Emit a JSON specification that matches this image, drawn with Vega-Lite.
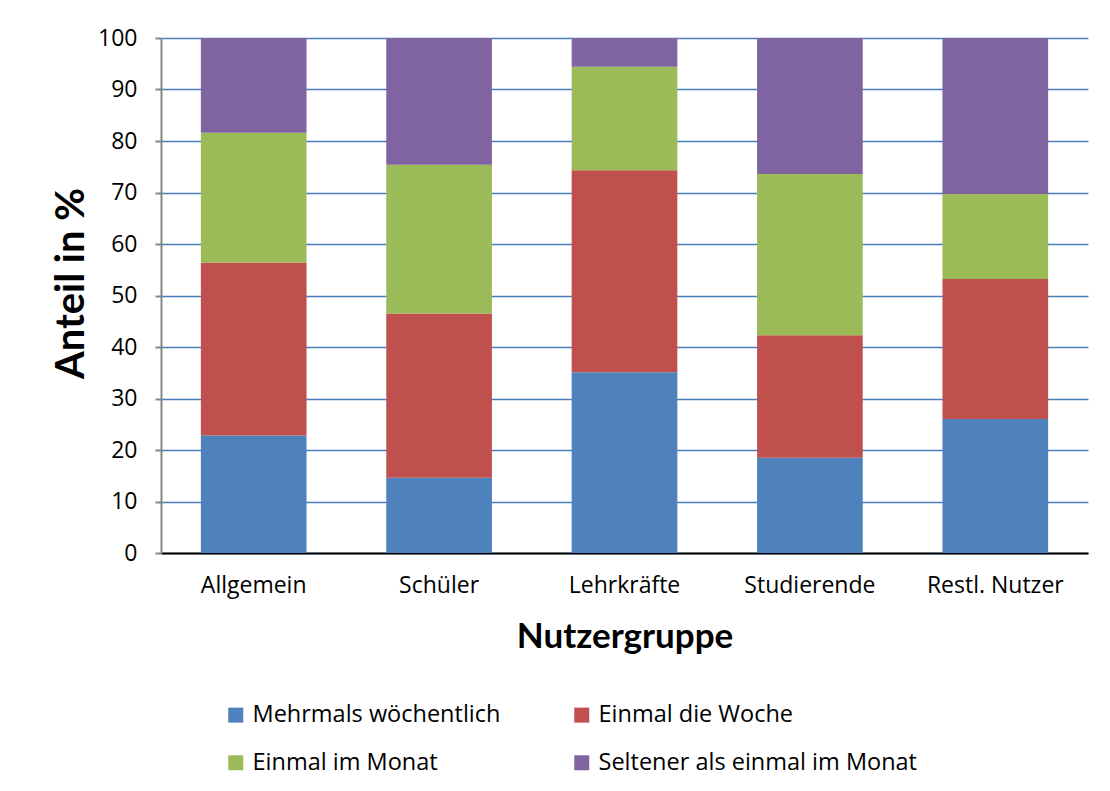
{
  "$schema": "https://vega.github.io/schema/vega-lite/v6.json",
  "width": 927,
  "height": 515,
  "autosize": {"type": "none"},
  "padding": {"left": 161, "top": 38, "right": 22, "bottom": 238},
  "background": "white",
  "config": {
    "font": "Open Sans",
    "view": {"stroke": null},
    "axis": {"labelColor": "black", "titleColor": "black", "labelFont": "Open Sans", "titleFont": "Lato"}
  },
  "data": {
    "values": [
      {"gruppe": "Allgemein", "k": 1, "kategorie": "Mehrmals wöchentlich", "anteil": 22.8},
      {"gruppe": "Allgemein", "k": 2, "kategorie": "Einmal die Woche", "anteil": 33.6},
      {"gruppe": "Allgemein", "k": 3, "kategorie": "Einmal im Monat", "anteil": 25.2},
      {"gruppe": "Allgemein", "k": 4, "kategorie": "Seltener als einmal im Monat", "anteil": 18.4},
      {"gruppe": "Schüler", "k": 1, "kategorie": "Mehrmals wöchentlich", "anteil": 14.6},
      {"gruppe": "Schüler", "k": 2, "kategorie": "Einmal die Woche", "anteil": 31.9},
      {"gruppe": "Schüler", "k": 3, "kategorie": "Einmal im Monat", "anteil": 28.9},
      {"gruppe": "Schüler", "k": 4, "kategorie": "Seltener als einmal im Monat", "anteil": 24.6},
      {"gruppe": "Lehrkräfte", "k": 1, "kategorie": "Mehrmals wöchentlich", "anteil": 35.1},
      {"gruppe": "Lehrkräfte", "k": 2, "kategorie": "Einmal die Woche", "anteil": 39.2},
      {"gruppe": "Lehrkräfte", "k": 3, "kategorie": "Einmal im Monat", "anteil": 20.1},
      {"gruppe": "Lehrkräfte", "k": 4, "kategorie": "Seltener als einmal im Monat", "anteil": 5.6},
      {"gruppe": "Studierende", "k": 1, "kategorie": "Mehrmals wöchentlich", "anteil": 18.5},
      {"gruppe": "Studierende", "k": 2, "kategorie": "Einmal die Woche", "anteil": 23.8},
      {"gruppe": "Studierende", "k": 3, "kategorie": "Einmal im Monat", "anteil": 31.3},
      {"gruppe": "Studierende", "k": 4, "kategorie": "Seltener als einmal im Monat", "anteil": 26.4},
      {"gruppe": "Restl. Nutzer", "k": 1, "kategorie": "Mehrmals wöchentlich", "anteil": 26.0},
      {"gruppe": "Restl. Nutzer", "k": 2, "kategorie": "Einmal die Woche", "anteil": 27.2},
      {"gruppe": "Restl. Nutzer", "k": 3, "kategorie": "Einmal im Monat", "anteil": 16.5},
      {"gruppe": "Restl. Nutzer", "k": 4, "kategorie": "Seltener als einmal im Monat", "anteil": 30.3}
    ]
  },
  "mark": {"type": "bar"},
  "encoding": {
    "x": {
      "field": "gruppe",
      "type": "nominal",
      "sort": ["Allgemein", "Schüler", "Lehrkräfte", "Studierende", "Restl. Nutzer"],
      "scale": {"paddingInner": 0.43, "paddingOuter": 0.215},
      "axis": {
        "title": "Nutzergruppe",
        "titleFontSize": 35,
        "titleFontWeight": "bold",
        "titlePadding": 22,
        "labelAngle": 0,
        "labelFontSize": 23,
        "labelPadding": 21,
        "ticks": false,
        "domainColor": "black",
        "domainWidth": 2
      }
    },
    "y": {
      "field": "anteil",
      "type": "quantitative",
      "stack": "zero",
      "scale": {"domain": [0, 100], "nice": false},
      "axis": {
        "title": "Anteil in %",
        "titleFontSize": 40,
        "titleFontWeight": "bold",
        "titlePadding": 6,
        "titleY": 245,
        "values": [0, 10, 20, 30, 40, 50, 60, 70, 80, 90, 100],
        "labelFontSize": 23,
        "labelPadding": 18,
        "tickSize": 6,
        "tickColor": "#868686",
        "tickWidth": 2,
        "domainColor": "#868686",
        "domainWidth": 2,
        "gridColor": "#4A7EBB",
        "gridWidth": 1.5,
        "gridOpacity": 1
      }
    },
    "order": {"field": "k", "type": "quantitative", "sort": "ascending"},
    "color": {
      "field": "kategorie",
      "type": "nominal",
      "sort": ["Mehrmals wöchentlich", "Einmal die Woche", "Einmal im Monat", "Seltener als einmal im Monat"],
      "scale": {
        "domain": ["Mehrmals wöchentlich", "Einmal die Woche", "Einmal im Monat", "Seltener als einmal im Monat"],
        "range": ["#4F81BD", "#C0504D", "#9BBB59", "#8064A2"]
      },
      "legend": {
        "title": null,
        "orient": "none",
        "legendX": 63,
        "legendY": 665,
        "direction": "horizontal",
        "columns": 2,
        "columnPadding": 69,
        "rowPadding": 23,
        "symbolType": "square",
        "symbolSize": 225,
        "symbolStrokeWidth": 0,
        "labelFontSize": 23.5,
        "labelFont": "Open Sans",
        "labelColor": "black",
        "labelOffset": 5,
        "labelLimit": 400
      }
    }
  }
}
